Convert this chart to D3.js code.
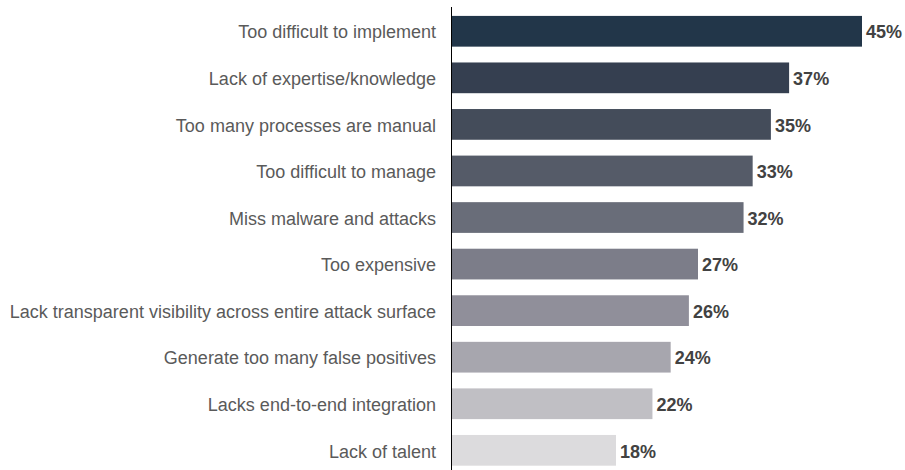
<!DOCTYPE html>
<html>
<head>
<meta charset="utf-8">
<script src="https://cdn.jsdelivr.net/npm/d3@7"></script>
<style>
  html, body { margin: 0; padding: 0; background: #fff; }
  svg { display: block; }
  .cat { font-family: "Liberation Sans", Arial, Helvetica, sans-serif; font-size: 18px; fill: #5a5a5a; }
  .val { font-family: "Liberation Sans", Arial, Helvetica, sans-serif; font-size: 18px; font-weight: bold; fill: #424242; }
</style>
</head>
<body>
<svg id="chart" width="905" height="470"></svg>
<script>
// Reasons respondents give, with share of respondents (%)
const categories = [
  "Too difficult to implement",
  "Lack of expertise/knowledge",
  "Too many processes are manual",
  "Too difficult to manage",
  "Miss malware and attacks",
  "Too expensive",
  "Lack transparent visibility across entire attack surface",
  "Generate too many false positives",
  "Lacks end-to-end integration",
  "Lack of talent"
];
const values = [45, 37, 35, 33, 32, 27, 26, 24, 22, 18];
const barColors = [
  "#223649", "#353f50", "#444c5a", "#555b68", "#696d79",
  "#7c7d89", "#908f9a", "#a7a6ae", "#c0bfc4", "#dcdbdd"
];

const svg = d3.select("#chart");
const axisX = 451.5;
const left = 452;

const x = d3.scaleLinear().domain([0, 45]).range([left, 862]);
const y = d3.scaleBand()
  .domain(categories)
  .range([8, 8 + 46.56 * categories.length])
  .paddingInner(0.34)
  .paddingOuter(0.17);

svg.selectAll("rect.bar")
  .data(categories)
  .join("rect")
  .attr("class", "bar")
  .attr("x", x(0))
  .attr("y", d => y(d))
  .attr("width", (d, i) => x(values[i]) - x(0))
  .attr("height", y.bandwidth())
  .attr("fill", (d, i) => barColors[i]);

svg.selectAll("text.cat")
  .data(categories)
  .join("text")
  .attr("class", "cat")
  .attr("x", 436)
  .attr("y", d => y(d) + y.bandwidth() / 2)
  .attr("dy", "0.4em")
  .attr("text-anchor", "end")
  .text(d => d);

svg.selectAll("text.val")
  .data(categories)
  .join("text")
  .attr("class", "val")
  .attr("x", (d, i) => x(values[i]) + 4)
  .attr("y", d => y(d) + y.bandwidth() / 2)
  .attr("dy", "0.4em")
  .text((d, i) => values[i] + "%");

// vertical baseline
svg.append("line")
  .attr("x1", axisX).attr("x2", axisX)
  .attr("y1", 7).attr("y2", 470)
  .attr("stroke", "#000")
  .attr("stroke-width", 1);
</script>
</body>
</html>
